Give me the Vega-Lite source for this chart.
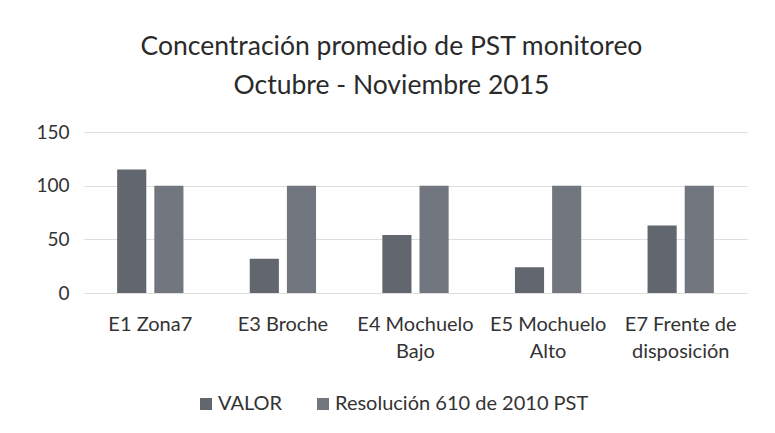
{
  "$schema": "https://vega.github.io/schema/vega-lite/v6.json",
  "autosize": {"type": "none"},
  "width": 663,
  "height": 161,
  "padding": {"left": 84, "top": 132, "right": 28, "bottom": 140},
  "background": "white",
  "title": {
    "text": ["Concentración promedio de PST monitoreo", "Octubre - Noviembre 2015"],
    "anchor": "middle",
    "frame": "bounds",
    "font": "Lato",
    "fontSize": 26.5,
    "fontWeight": "normal",
    "color": "#2a2a2a",
    "lineHeight": 39,
    "offset": 24
  },
  "data": {
    "values": [
      {"estacion": "E1 Zona7", "serie": "VALOR", "valor": 115},
      {"estacion": "E1 Zona7", "serie": "Resolución 610 de 2010 PST", "valor": 100},
      {"estacion": "E3 Broche", "serie": "VALOR", "valor": 32},
      {"estacion": "E3 Broche", "serie": "Resolución 610 de 2010 PST", "valor": 100},
      {"estacion": "E4 Mochuelo|Bajo", "serie": "VALOR", "valor": 54},
      {"estacion": "E4 Mochuelo|Bajo", "serie": "Resolución 610 de 2010 PST", "valor": 100},
      {"estacion": "E5 Mochuelo|Alto", "serie": "VALOR", "valor": 24},
      {"estacion": "E5 Mochuelo|Alto", "serie": "Resolución 610 de 2010 PST", "valor": 100},
      {"estacion": "E7 Frente de|disposición", "serie": "VALOR", "valor": 63},
      {"estacion": "E7 Frente de|disposición", "serie": "Resolución 610 de 2010 PST", "valor": 100}
    ]
  },
  "mark": {"type": "bar"},
  "encoding": {
    "x": {
      "field": "estacion",
      "type": "nominal",
      "sort": null,
      "scale": {"paddingInner": 0.5, "paddingOuter": 0.25},
      "axis": {
        "title": null,
        "labelAngle": 0,
        "labelExpr": "split(datum.label, '|')",
        "labelFont": "Lato",
        "labelFontSize": 20,
        "labelColor": "#333333",
        "labelLineHeight": 27,
        "labelPadding": 21,
        "ticks": false,
        "domain": false,
        "labelLimit": 300
      }
    },
    "xOffset": {
      "field": "serie",
      "type": "nominal",
      "sort": ["VALOR", "Resolución 610 de 2010 PST"],
      "scale": {"paddingInner": 0.216, "paddingOuter": 0}
    },
    "y": {
      "field": "valor",
      "type": "quantitative",
      "scale": {"domain": [0, 150]},
      "axis": {
        "title": null,
        "values": [0, 50, 100, 150],
        "labelFont": "Lato",
        "labelFontSize": 19,
        "labelColor": "#333333",
        "labelPadding": 15,
        "ticks": false,
        "domain": false,
        "gridColor": "#dedede",
        "gridWidth": 1
      }
    },
    "color": {
      "field": "serie",
      "type": "nominal",
      "sort": ["VALOR", "Resolución 610 de 2010 PST"],
      "scale": {"range": ["#62666e", "#72767e"]},
      "legend": {
        "title": null,
        "orient": "none",
        "legendX": 112,
        "legendY": 262,
        "direction": "horizontal",
        "labelFont": "Lato",
        "labelFontSize": 20,
        "labelColor": "#333333",
        "labelLimit": 400,
        "symbolType": "square",
        "symbolSize": 144,
        "symbolStrokeWidth": 0,
        "columnPadding": 30,
        "labelOffset": 2
      }
    }
  },
  "config": {"view": {"stroke": null}}
}
